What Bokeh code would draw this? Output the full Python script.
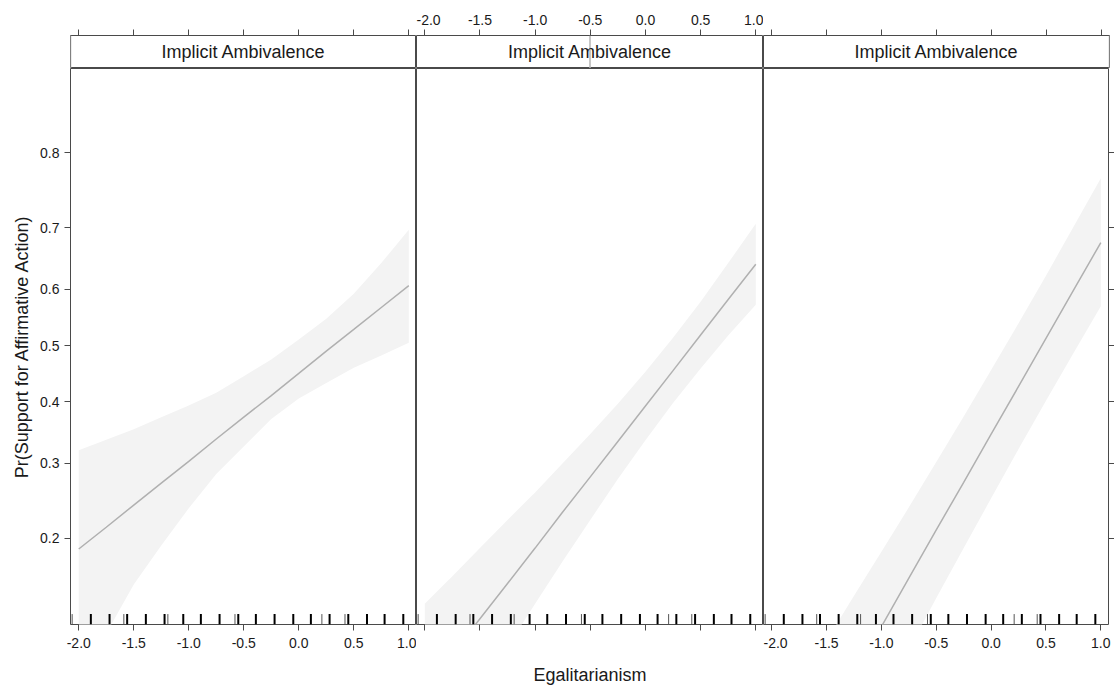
import numpy as np
from bokeh.plotting import figure
from bokeh.layouts import row, column
from bokeh.models import Range1d, FixedTicker, CustomJSTickFormatter, LinearAxis, Label
from bokeh.embed import file_html
from bokeh.resources import INLINE

# ---------------- data ----------------
strip_label = "Implicit Ambivalence"
x_title = "Egalitarianism"
y_title = "Pr(Support for Affirmative Action)"

egal = [-2.0, -1.75, -1.5, -1.25, -1.0, -0.75, -0.5, -0.25, 0.0, 0.25, 0.5, 0.75, 1.0]

p1_fit = [0.188, 0.213, 0.241, 0.271, 0.303, 0.338, 0.374, 0.411, 0.450, 0.490, 0.529, 0.568, 0.606]
p1_upper = [0.320, 0.337, 0.354, 0.374, 0.394, 0.416, 0.445, 0.475, 0.511, 0.548, 0.592, 0.644, 0.697]
p1_lower = [0.083, 0.112, 0.152, 0.192, 0.237, 0.284, 0.326, 0.371, 0.406, 0.433, 0.460, 0.482, 0.505]

p2_fit = [0.078, 0.098, 0.123, 0.153, 0.189, 0.232, 0.280, 0.334, 0.393, 0.455, 0.519, 0.582, 0.642]
p2_upper = [0.135, 0.160, 0.189, 0.222, 0.258, 0.300, 0.346, 0.397, 0.453, 0.514, 0.578, 0.644, 0.706]
p2_lower = [0.043, 0.058, 0.078, 0.103, 0.135, 0.175, 0.222, 0.277, 0.336, 0.398, 0.459, 0.518, 0.573]

p3_fit = [0.032, 0.045, 0.063, 0.086, 0.117, 0.158, 0.210, 0.272, 0.346, 0.427, 0.513, 0.598, 0.677]
p3_upper = [0.061, 0.081, 0.107, 0.142, 0.185, 0.238, 0.302, 0.375, 0.456, 0.540, 0.623, 0.701, 0.769]
p3_lower = [0.017, 0.025, 0.036, 0.051, 0.072, 0.101, 0.140, 0.189, 0.250, 0.322, 0.402, 0.486, 0.570]

# relative position of the conditioning level shown in each strip
strip_level = [0.0, 0.5, 1.0]

rug_thick = [-1.89, -1.72, -1.56, -1.39, -1.22, -1.05, -0.89, -0.72, -0.55,
             -0.39, -0.22, -0.05, 0.11, 0.28, 0.45, 0.62, 0.78, 0.95]
rug_thin = [-2.06, -1.59, -1.19, -0.58, 0.21, 0.42]

x_ticks = [-2.0, -1.5, -1.0, -0.5, 0.0, 0.5, 1.0]
y_ticks = [0.2, 0.3, 0.4, 0.5, 0.6, 0.7, 0.8]

panels = [(p1_fit, p1_lower, p1_upper), (p2_fit, p2_lower, p2_upper), (p3_fit, p3_lower, p3_upper)]


def logit(p):
    p = np.asarray(p, dtype=float)
    return np.log(p / (1.0 - p))


# ---------------- style / layout ----------------
FONT = "Liberation Sans"
X0, X1 = -2.075, 1.07
Y0, Y1 = -2.006, 1.992
FRAME_W = [346, 347, 346]
BL, BR, BT, BB = 70, 5, 35, 53
STRIP_H, PANEL_H = 33, 566
EDGE = "#4a4a4a"
TXT = "#1a1a1a"

xfmt = CustomJSTickFormatter(code="return tick.toFixed(1);")
yfmt = CustomJSTickFormatter(code="return (1/(1+Math.exp(-tick))).toFixed(1);")
yt = [float(v) for v in logit(y_ticks)]


def style_axis(ax, labels, standoff=5):
    ax.major_tick_out = 6
    ax.major_tick_in = 0
    ax.minor_tick_out = 0
    ax.minor_tick_in = 0
    ax.axis_line_color = None
    ax.major_tick_line_color = EDGE
    ax.major_label_text_font = FONT
    ax.major_label_text_font_size = "14px"
    ax.major_label_standoff = standoff
    ax.major_label_text_color = TXT if labels else None
    ax.axis_label_text_font = FONT
    ax.axis_label_text_font_size = "18px"
    ax.axis_label_text_font_style = "normal"
    ax.axis_label_text_color = TXT


def base_fig(i, height, top, bottom, yr, xr):
    left = BL if i == 0 else 0
    right = BR if i == 2 else 0
    f = figure(width=FRAME_W[i] + left + right, height=height,
               x_range=xr, y_range=yr,
               output_backend="svg", toolbar_location=None,
               x_axis_location=None, y_axis_location=None,
               min_border=0, min_border_left=left, min_border_right=right,
               min_border_top=top, min_border_bottom=bottom)
    f.grid.visible = False
    f.outline_line_color = EDGE
    f.outline_line_width = 1
    f.background_fill_color = "white"
    f.border_fill_color = "white"
    return f


strips, plots = [], []
for i, (fit, lo, up) in enumerate(panels):
    xr = Range1d(X0, X1)
    # strip
    s = base_fig(i, BT + STRIP_H, BT, 0, Range1d(0, 1), xr)
    ax = LinearAxis(ticker=FixedTicker(ticks=x_ticks), formatter=xfmt)
    style_axis(ax, labels=(i == 1))
    s.add_layout(ax, "above")
    xm = X0 + strip_level[i] * (X1 - X0)
    s.segment(x0=[xm], y0=[0], x1=[xm], y1=[1], line_color="#b5b5b5", line_width=1.5)
    s.add_layout(Label(x=(X0 + X1) / 2, y=0.5, text=strip_label, text_align="center",
                       text_baseline="middle", text_font=FONT, text_font_size="18px",
                       text_color=TXT))
    strips.append(s)

    # panel
    p = base_fig(i, PANEL_H + BB, 0, BB, Range1d(Y0, Y1), xr)
    p.varea(x=egal, y1=logit(lo), y2=logit(up), fill_color="#f3f3f3")
    p.line(x=egal, y=logit(fit), line_color="#b0b0b0", line_width=1.5)
    p.segment(x0=rug_thin, y0=[Y0] * len(rug_thin), x1=rug_thin, y1=[Y0 + 0.075] * len(rug_thin),
              line_color="#555555", line_width=1)
    p.segment(x0=rug_thick, y0=[Y0] * len(rug_thick), x1=rug_thick, y1=[Y0 + 0.075] * len(rug_thick),
              line_color="black", line_width=2)

    bx = LinearAxis(ticker=FixedTicker(ticks=x_ticks), formatter=xfmt)
    style_axis(bx, labels=(i != 1), standoff=7)
    if i == 1:
        bx.axis_label = x_title
        bx.axis_label_standoff = 34
    p.add_layout(bx, "below")

    if i == 0:
        ly = LinearAxis(ticker=FixedTicker(ticks=yt), formatter=yfmt)
        style_axis(ly, labels=True)
        ly.axis_label = y_title
        ly.axis_label_standoff = 5
        p.add_layout(ly, "left")
    if i == 2:
        ry = LinearAxis(ticker=FixedTicker(ticks=yt), formatter=yfmt)
        style_axis(ry, labels=False)
        p.add_layout(ry, "right")
    plots.append(p)

layout = column(row(*strips, spacing=0), row(*plots, spacing=0), spacing=0)

with open("out.html", "w") as fh:
    fh.write(file_html(layout, INLINE))
